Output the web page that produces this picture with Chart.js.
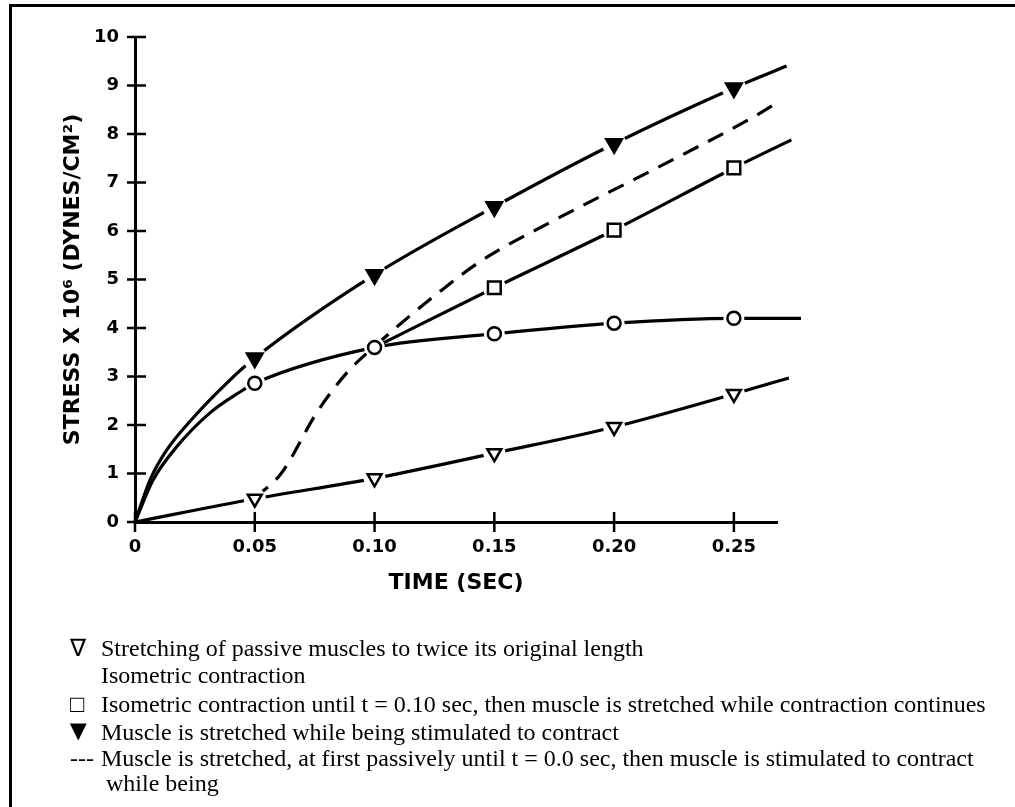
<!DOCTYPE html>
<html>
<head>
<meta charset="utf-8">
<script src="https://cdn.jsdelivr.net/npm/chart.js@4.4.1/dist/chart.umd.min.js"></script>
<style>
    body { margin: 0; background: #fff; }
    #wrap { position: relative; width: 1015px; height: 807px; overflow: hidden; background: #fff; }
    #frame { position: absolute; left: 9px; top: 4px; width: 1020px; height: 820px; border-top: 3px solid #000; border-left: 3px solid #000; }
    canvas { position: absolute; left: 0; top: 0; }
    .leg { position: absolute; font-family: "Liberation Serif", "Times New Roman", serif; font-size: 24px; line-height: 28px; white-space: nowrap; color: #000; }
</style>
</head>
<body>
<div id="wrap">
    <div id="frame"></div>
    <canvas id="chart" width="1015" height="807"></canvas>
    <div id="legend"></div>
</div>
<script>
"use strict";

// Akser
const xTicks = [0, 0.05, 0.10, 0.15, 0.20, 0.25];
const xTickLabels = ["0", "0.05", "0.10", "0.15", "0.20", "0.25"];
const yTicks = [0, 1, 2, 3, 4, 5, 6, 7, 8, 9, 10];
const xTitle = "TIME (SEC)";
const yTitle = "STRESS X 10\u2076 (DYNES/CM\u00B2)";

// Tider där markörer sitter
const markTimes = [0.05, 0.10, 0.15, 0.20, 0.25];
const squareMarkTimes = [0.15, 0.20, 0.25];

// Muskel sträcks medan den stimuleras (fyllda trianglar)
const stimTime = [0, 0.0063, 0.0132, 0.0243, 0.0382, 0.05, 0.10, 0.15, 0.20, 0.25, 0.272];
const stimStress = [0, 0.87, 1.48, 2.15, 2.86, 3.38, 5.1, 6.5, 7.8, 8.95, 9.4];

// Isometrisk kontraktion (cirklar)
const isoTime = [0, 0.0076, 0.0174, 0.0313, 0.0438, 0.05, 0.10, 0.15, 0.20, 0.25, 0.278];
const isoStress = [0, 0.87, 1.55, 2.25, 2.68, 2.86, 3.6, 3.88, 4.1, 4.2, 4.2];

// Isometrisk till t = 0.10, sedan sträckning (kvadrater)
const isoStretchTime = [0.10, 0.15, 0.20, 0.25, 0.274];
const isoStretchStress = [3.6, 4.83, 6.02, 7.3, 7.88];

// Passiv sträckning (öppna trianglar)
const passiveTime = [0, 0.05, 0.10, 0.15, 0.20, 0.25, 0.273];
const passiveStress = [0, 0.48, 0.9, 1.42, 1.96, 2.64, 2.97];

// Först passiv, sedan stimulerad (streckad)
const lateTime = [0.05, 0.061, 0.0758, 0.0883, 0.10, 0.128, 0.145, 0.173, 0.2146, 0.256, 0.268];
const lateStress = [0.5, 1.0, 2.25, 3.07, 3.62, 4.78, 5.4, 6.17, 7.22, 8.29, 8.64];

// Förklaringstexter
const legendSymbols = ["\u2207", "", "\u25A1", "\u25BC", "---", ""];
const legendTexts = [
    "Stretching of passive muscles to twice its original length",
    "Isometric contraction",
    "Isometric contraction until t = 0.10 sec, then muscle is stretched while contraction continues",
    "Muscle is stretched while being stimulated to contract",
    "Muscle is stretched, at first passively until t = 0.0 sec, then muscle is stimulated to contract",
    "while being"
];

window.onload = init;

function toPoints(xs, ys) {
    return xs.map((x, i) => ({ x: x, y: ys[i] }));
}

function marks(xs, ys, times) {
    return toPoints(xs, ys).filter(p => times.includes(p.x));
}

function lineSet(data, dashed) {
    return {
        data: data,
        borderColor: "#000",
        borderWidth: 3.2,
        borderDash: dashed ? [17, 11] : [],
        pointRadius: 0,
        cubicInterpolationMode: "monotone",
        clip: false
    };
}

function haloSet(data, radius) {
    return {
        data: data,
        showLine: false,
        pointStyle: "circle",
        pointRadius: radius,
        pointBackgroundColor: "#fff",
        pointBorderColor: "#fff",
        pointBorderWidth: 0,
        clip: false
    };
}

function markSet(data, style, radius, fill, rotation) {
    return {
        data: data,
        showLine: false,
        pointStyle: style,
        pointRadius: radius,
        pointRotation: rotation || 0,
        pointBackgroundColor: fill,
        pointBorderColor: "#000",
        pointBorderWidth: 2.5,
        clip: false
    };
}

// Tickar som korsar axlarna
const crossTicks = {
    id: "crossTicks",
    afterDraw(chart) {
        const { ctx, chartArea, scales: { x, y } } = chart;
        ctx.save();
        ctx.strokeStyle = "#000";
        ctx.lineWidth = 2.5;
        ctx.beginPath();
        x.ticks.forEach(t => {
            const px = x.getPixelForValue(t.value);
            ctx.moveTo(px, chartArea.bottom - 10);
            ctx.lineTo(px, chartArea.bottom + 10);
        });
        y.ticks.forEach(t => {
            const py = y.getPixelForValue(t.value);
            ctx.moveTo(chartArea.left - 8, py);
            ctx.lineTo(chartArea.left + 11, py);
        });
        ctx.stroke();
        ctx.restore();
    }
};

function init() {
    buildLegend();
    createChart();
}

function buildLegend() {
    const baselines = [656, 683, 712, 740, 766, 791];
    const box = document.getElementById("legend");
    legendTexts.forEach((text, i) => {
        const top = baselines[i] - 22;
        if (legendSymbols[i]) {
            const s = document.createElement("div");
            s.className = "leg";
            s.textContent = legendSymbols[i];
            s.style.left = "70px";
            s.style.top = top + "px";
            if (legendSymbols[i] === "\u25BC") {
                s.style.left = "64px";
                s.style.transformOrigin = "left 80%";
                s.style.transform = "scale(1.2)";
            }
            box.appendChild(s);
        }
        const d = document.createElement("div");
        d.className = "leg";
        d.textContent = text;
        d.style.left = (i === 5 ? 106 : 101) + "px";
        d.style.top = top + "px";
        box.appendChild(d);
    });
}

function createChart() {
    const ctx = document.getElementById("chart").getContext("2d");
    const tickFont = { family: "'DejaVu Sans'", weight: "bold", size: 18 };

    new Chart(ctx, {
        type: "line",
        data: {
            datasets: [
                // markörer överst
                markSet(marks(stimTime, stimStress, markTimes), "triangle", 9, "#000", 180),
                markSet(marks(isoTime, isoStress, markTimes), "circle", 6.5, "#fff"),
                markSet(marks(isoStretchTime, isoStretchStress, squareMarkTimes), "rect", 9, "#fff"),
                markSet(marks(passiveTime, passiveStress, markTimes), "triangle", 8, "#fff", 180),
                // vita glorior
                haloSet(marks(stimTime, stimStress, markTimes), 12),
                haloSet(marks(isoTime, isoStress, markTimes), 10.5),
                haloSet(marks(isoStretchTime, isoStretchStress, squareMarkTimes), 11.5),
                haloSet(marks(passiveTime, passiveStress, markTimes), 11),
                // linjer
                lineSet(toPoints(stimTime, stimStress), false),
                lineSet(toPoints(isoTime, isoStress), false),
                lineSet(toPoints(isoStretchTime, isoStretchStress), false),
                lineSet(toPoints(passiveTime, passiveStress), false),
                lineSet(toPoints(lateTime, lateStress), true)
            ]
        },
        options: {
            responsive: false,
            animation: false,
            layout: { padding: { left: 60, top: 37, right: 238, bottom: 210 } },
            plugins: {
                legend: { display: false },
                tooltip: { enabled: false }
            },
            scales: {
                x: {
                    type: "linear",
                    min: 0,
                    max: 0.268,
                    afterFit: scale => { scale.height = 75; },
                    afterBuildTicks: scale => { scale.ticks = xTicks.map(v => ({ value: v })); },
                    grid: { drawOnChartArea: false, drawTicks: false },
                    border: { display: true, color: "#000", width: 3 },
                    ticks: {
                        color: "#000",
                        font: tickFont,
                        padding: 15,
                        maxRotation: 0,
                        callback: (v) => xTickLabels[xTicks.indexOf(v)]
                    },
                    title: {
                        display: true,
                        text: xTitle,
                        color: "#000",
                        font: { family: "'DejaVu Sans'", weight: "bold", size: 22 },
                        padding: { top: 0, bottom: 1 }
                    }
                },
                y: {
                    min: 0,
                    max: 10,
                    afterFit: scale => { scale.width = 75; },
                    afterBuildTicks: scale => { scale.ticks = yTicks.map(v => ({ value: v })); },
                    grid: { drawOnChartArea: false, drawTicks: false },
                    border: { display: true, color: "#000", width: 3 },
                    ticks: {
                        color: "#000",
                        font: tickFont,
                        padding: 16
                    },
                    title: {
                        display: true,
                        text: yTitle,
                        color: "#000",
                        font: { family: "'DejaVu Sans'", weight: "bold", size: 22 },
                        padding: { top: 0, bottom: 0 }
                    }
                }
            }
        },
        plugins: [crossTicks]
    });
}
</script>
</body>
</html>
